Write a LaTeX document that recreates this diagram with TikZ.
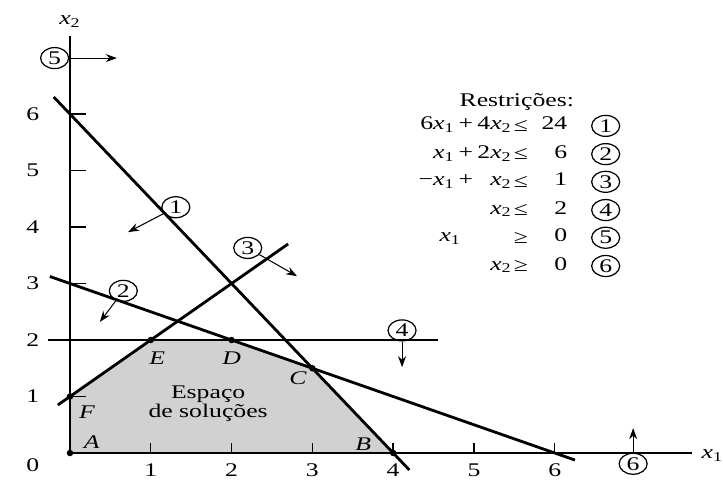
\documentclass[tikz,border=0pt]{standalone}
\usepackage{fontspec}
\setmainfont{Liberation Serif}[FakeStretch=1.33]
\usetikzlibrary{arrows.meta,shapes.geometric}

\newcommand{\xv}[1]{\textit{x}\textsubscript{#1}}
\newcommand{\pl}{\hspace{0.22em}+\hspace{0.22em}}

\begin{document}
\begin{tikzpicture}[
        x=1.616cm, y=1.13cm,
        font=\fontsize{11}{14}\selectfont,
        axis/.style={line width=1.4pt},
        tick/.style={line width=0.8pt},
        bound/.style={line width=1.6pt},
        dirarrow/.style={line width=0.6pt, -{Stealth[length=2.2mm, width=1.6mm]}},
        vertex/.style={circle, fill, inner sep=0pt, minimum size=1.3mm},
        vlabel/.style={font=\fontsize{11}{14}\selectfont\itshape},
        restr/.style={ellipse, draw, line width=0.7pt, inner sep=0pt, minimum width=5.6mm, minimum height=4.2mm},
        legend/.style={inner sep=0pt}
    ]
        \useasboundingbox (-0.866,-0.478) rectangle (8.082,8.018);

        % region of feasible solutions
        \coordinate (A) at (0,0);
        \coordinate (B) at (4,0);
        \coordinate (C) at (3,1.5);
        \coordinate (D) at (2,2);
        \coordinate (E) at (1,2);
        \coordinate (F) at (0,1);
        \fill[black!18] (A) -- (B) -- (C) -- (D) -- (E) -- (F) -- cycle;

        % axes
        \coordinate (xend) at (7.70,0);
        \coordinate (yend) at (0,7.38);
        \draw[axis] (A) -- (xend);
        \draw[axis] (A) -- (yend);
        \node (xlab) at (7.95,-0.05) {\xv{1}};
        \node (ylab) at (0,7.63) {\xv{2}};
        \node (zero) at (-0.46,-0.21) {0};
        \foreach \i in {1,...,6} {
            \draw[tick] (\i,0) -- (\i,0.18);
            \node (xt\i) at (\i,-0.3) {\i};
            \draw[tick] (0,\i) -- (0.2,\i);
            \node (yt\i) at (-0.46,\i) {\i};
        }

        % constraint lines
        \coordinate (r1a) at (-0.2,6.3);
        \coordinate (r1b) at (4.2,-0.3);
        \coordinate (r2a) at (-0.25,3.125);
        \coordinate (r2b) at (6.25,-0.125);
        \coordinate (r3a) at (-0.15,0.85);
        \coordinate (r3b) at (2.7,3.7);
        \coordinate (r4a) at (-0.27,2);
        \coordinate (r4b) at (4.55,2);
        \draw[bound] (r1a) -- (r1b);
        \draw[bound] (r2a) -- (r2b);
        \draw[bound] (r3a) -- (r3b);
        \draw[bound] (r4a) -- (r4b);

        % corner points
        \foreach \p in {A,B,C,D,E,F}
            \node[vertex] (dot\p) at (\p) {};
        \node[vlabel] (labA) at (0.27,0.2) {A};
        \node[vlabel] (labB) at (3.63,0.16) {B};
        \node[vlabel] (labC) at (2.82,1.33) {C};
        \node[vlabel] (labD) at (2.0,1.68) {D};
        \node[vlabel] (labE) at (1.08,1.68) {E};
        \node[vlabel] (labF) at (0.21,0.73) {F};
        \node[align=center, font=\fontsize{11}{11}\selectfont] (espaco) at (1.71,0.87) {Espaço\\de soluções};

        % constraint markers and directions
        \node[restr] (c1) at (1.31,4.35) {1};
        \node[restr] (c2) at (0.66,2.87) {2};
        \node[restr] (c3) at (2.2,3.63) {3};
        \node[restr] (c4) at (4.11,2.17) {4};
        \node[restr] (c5) at (-0.19,6.99) {5};
        \node[restr] (c6) at (6.97,-0.19) {6};
        \coordinate (a1) at (0.72,3.91);
        \coordinate (a2) at (0.37,2.32);
        \coordinate (a3) at (2.81,3.13);
        \coordinate (a4) at (4.11,1.52);
        \coordinate (a5) at (0.58,6.99);
        \coordinate (a6) at (6.97,0.44);
        \draw[dirarrow] (c1) -- (a1);
        \draw[dirarrow] (c2) -- (a2);
        \draw[dirarrow] (c3) -- (a3);
        \draw[dirarrow] (c4) -- (a4);
        \draw[dirarrow] (c5) -- (a5);
        \draw[dirarrow] (c6) -- (a6);

        % list of constraints
        \node (title) at (5.53,6.21) {Restrições:};
        \node[legend, anchor=mid east] (lhs1) at (5.47,5.79) {6\xv{1}\pl4\xv{2}};
        \node[legend, anchor=mid east] (lhs2) at (5.47,5.29) {\xv{1}\pl2\xv{2}};
        \node[legend, anchor=mid east] (lhs3) at (5.47,4.80) {−\xv{1}\pl\hphantom{4}\xv{2}};
        \node[legend, anchor=mid east] (lhs4) at (5.47,4.30) {\xv{2}};
        \node[legend, anchor=mid west] (lhs5) at (4.57,3.81) {\xv{1}};
        \node[legend, anchor=mid east] (lhs6) at (5.47,3.31) {\xv{2}};
        \node[legend] (rel1) at (5.58,5.79) {≤};
        \node[legend] (rel2) at (5.58,5.29) {≤};
        \node[legend] (rel3) at (5.58,4.80) {≤};
        \node[legend] (rel4) at (5.58,4.30) {≤};
        \node[legend] (rel5) at (5.58,3.81) {≥};
        \node[legend] (rel6) at (5.58,3.31) {≥};
        \node[legend, anchor=mid east] (rhs1) at (6.16,5.79) {24};
        \node[legend, anchor=mid east] (rhs2) at (6.16,5.29) {6};
        \node[legend, anchor=mid east] (rhs3) at (6.16,4.80) {1};
        \node[legend, anchor=mid east] (rhs4) at (6.16,4.30) {2};
        \node[legend, anchor=mid east] (rhs5) at (6.16,3.81) {0};
        \node[legend, anchor=mid east] (rhs6) at (6.16,3.31) {0};
        \node[restr] (n1) at (6.63,5.79) {1};
        \node[restr] (n2) at (6.63,5.29) {2};
        \node[restr] (n3) at (6.63,4.80) {3};
        \node[restr] (n4) at (6.63,4.30) {4};
        \node[restr] (n5) at (6.63,3.81) {5};
        \node[restr] (n6) at (6.63,3.31) {6};
    \end{tikzpicture}
\end{document}
